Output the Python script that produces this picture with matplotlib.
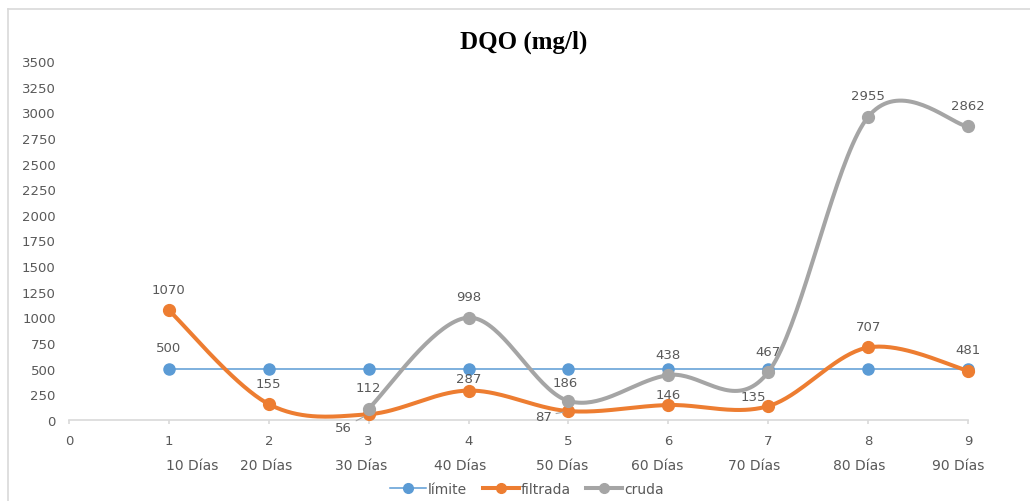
import matplotlib.pyplot as plt
import numpy as np
from matplotlib.lines import Line2D

# data
x_pos = [1, 2, 3, 4, 5, 6, 7, 8, 9]
dias = ["10 Días", "20 Días", "30 Días", "40 Días", "50 Días",
        "60 Días", "70 Días", "80 Días", "90 Días"]
limite = [500, 500, 500, 500, 500, 500, 500, 500, 500]
filtrada = [1070, 155, 56, 287, 87, 146, 135, 707, 481]
cruda_x = [3, 4, 5, 6, 7, 8, 9]
cruda = [112, 998, 186, 438, 467, 2955, 2862]

plt.rcParams['font.family'] = ['Liberation Sans Narrow', 'DejaVu Sans']
grey_txt = "#595959"
c_lim, c_fil, c_cru = "#5B9BD5", "#ED7D31", "#A5A5A5"
PX = 0.72  # points per pixel at dpi 100


def smooth(xs, ys, n=40):
    # Excel-like smoothed line (bezier, tension 1/6)
    p = np.column_stack([xs, ys]).astype(float)
    out = []
    for i in range(len(p) - 1):
        p0 = p[max(i - 1, 0)]
        p1, p2 = p[i], p[i + 1]
        p3 = p[min(i + 2, len(p) - 1)]
        c1 = p1 + (p2 - p0) / 6
        c2 = p2 - (p3 - p1) / 6
        t = np.linspace(0, 1, n)[:, None]
        seg = (1 - t) ** 3 * p1 + 3 * (1 - t) ** 2 * t * c1 + 3 * (1 - t) * t ** 2 * c2 + t ** 3 * p2
        out.append(seg if i == 0 else seg[1:])
    s = np.vstack(out)
    return s[:, 0], s[:, 1]


fig = plt.figure(figsize=(10.30, 5.02), dpi=100)
ax = fig.add_axes([69 / 1030, 1 - 421 / 502, (968 - 69) / 1030, (421 - 62) / 502])

ax.plot(x_pos, limite, color=c_lim, lw=1.1, marker='o', ms=8, clip_on=False, zorder=3)
sx, sy = smooth(x_pos, filtrada)
ax.plot(sx, sy, color=c_fil, lw=2.9, solid_capstyle='round', clip_on=False, zorder=4)
ax.plot(x_pos, filtrada, ls='none', marker='o', ms=8.5, color=c_fil, clip_on=False, zorder=4)
sx, sy = smooth(cruda_x, cruda)
ax.plot(sx, sy, color=c_cru, lw=2.9, solid_capstyle='round', clip_on=False, zorder=5)
ax.plot(cruda_x, cruda, ls='none', marker='o', ms=8.5, color=c_cru, clip_on=False, zorder=5)

ax.set_xlim(0, 9)
ax.set_ylim(0, 3500)
ax.set_yticks(np.arange(0, 3501, 250))
ax.set_xticks(range(10))
for s in ['top', 'right', 'left']:
    ax.spines[s].set_visible(False)
ax.spines['bottom'].set_color('#d9d9d9')
ax.spines['bottom'].set_linewidth(1.2)
ax.tick_params(axis='y', length=0, pad=9.5, labelsize=9.5, labelcolor=grey_txt)
ax.tick_params(axis='x', length=3, color='#d9d9d9', width=1.2, pad=7,
               labelsize=9.5, labelcolor=grey_txt)

# second row of category labels
day_shift = [0.23, -0.03, -0.08, -0.08, -0.06, -0.11, -0.14, -0.09, -0.1]
for x, lab, d in zip(x_pos, dias, day_shift):
    ax.annotate(lab, (x + d, 0), xycoords=('data', 'axes fraction'),
                xytext=(0, -45 * PX), textcoords='offset points',
                ha='center', va='center', fontsize=10, color=grey_txt)


# data labels (offset in pixels)
def label(x, y, txt, dx=0, dy=21, leader=False):
    kw = {}
    if leader:
        kw['arrowprops'] = dict(arrowstyle='-', color='#a6a6a6', lw=0.8,
                                shrinkA=1, shrinkB=4)
    ax.annotate(txt, (x, y), xytext=(dx * PX, dy * PX), textcoords='offset points',
                ha='center', va='center', fontsize=9.5, color=grey_txt,
                annotation_clip=False, zorder=6, **kw)


label(1, limite[0], str(limite[0]))
fil_off = {2: (-25, -13), 3: (0, 12), 4: (-25, -5), 5: (0, 11), 6: (-15, 10)}
for i, (x, v) in enumerate(zip(x_pos, filtrada)):
    dx, dy = fil_off.get(i, (0, 21))
    label(x, v, str(v), dx, dy, leader=(i in (2, 4)))
for x, v in zip(cruda_x, cruda):
    if x == 5:
        label(x, v, str(v), -3, 18)
    else:
        label(x, v, str(v))

fig.text(524 / 1030, 1 - 42 / 502, "DQO (mg/l)", ha='center', va='center',
         fontsize=18, fontweight='bold', family='Liberation Serif')

handles = [
    Line2D([], [], color=c_lim, lw=1.1, marker='o', ms=7),
    Line2D([], [], color=c_fil, lw=2.9, marker='o', ms=7),
    Line2D([], [], color=c_cru, lw=2.9, marker='o', ms=7),
]
leg = fig.legend(handles, ['límite', 'filtrada', 'cruda'], loc='center',
                 bbox_to_anchor=(527 / 1030, 1 - 490 / 502), ncol=3, frameon=False,
                 fontsize=10, handlelength=2.6, handletextpad=0.15, columnspacing=1.1)
for t in leg.get_texts():
    t.set_color(grey_txt)

# chart border (left and top)
fig.add_artist(Line2D([8 / 1030, 8 / 1030], [0, 1 - 10 / 502], color='#d9d9d9', lw=1.2))
fig.add_artist(Line2D([8 / 1030, 1], [1 - 10 / 502, 1 - 10 / 502], color='#d9d9d9', lw=1.2))

fig.savefig('out.png', dpi=100, facecolor='white')
